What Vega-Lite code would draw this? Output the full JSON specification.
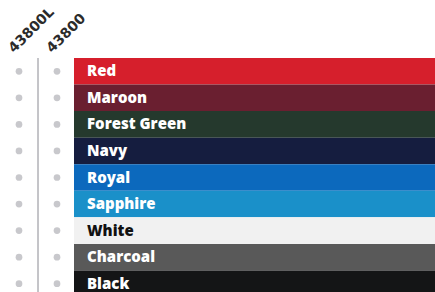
{
  "$schema": "https://vega.github.io/schema/vega-lite/v6.json",
  "width": 435,
  "height": 292,
  "autosize": "none",
  "padding": 0,
  "background": "white",
  "config": {"view": {"stroke": null}},
  "data": {
    "values": [
      {"name": "Red", "hex": "#d61f2c", "43800L": 1, "43800": 1},
      {"name": "Maroon", "hex": "#6a1f30", "43800L": 1, "43800": 1},
      {"name": "Forest Green", "hex": "#25392d", "43800L": 1, "43800": 1},
      {"name": "Navy", "hex": "#151d3f", "43800L": 1, "43800": 1},
      {"name": "Royal", "hex": "#0c69bd", "43800L": 1, "43800": 1},
      {"name": "Sapphire", "hex": "#1a90c9", "43800L": 1, "43800": 1},
      {"name": "White", "hex": "#f1f1f1", "43800L": 1, "43800": 1},
      {"name": "Charcoal", "hex": "#595959", "43800L": 1, "43800": 1},
      {"name": "Black", "hex": "#141516", "43800L": 1, "43800": 1}
    ]
  },
  "encoding": {
    "y": {
      "field": "name",
      "type": "nominal",
      "sort": null,
      "axis": null,
      "scale": {"range": [58, 297], "paddingInner": 0, "paddingOuter": 0}
    }
  },
  "layer": [
    {
      "layer": [
        {
          "mark": {"type": "rect"},
          "encoding": {
            "x": {"datum": 0, "type": "quantitative", "axis": null, "scale": {"domain": [0, 1], "range": [74, 435]}},
            "x2": {"datum": 1},
            "color": {"field": "hex", "type": "nominal", "scale": null, "legend": null}
          }
        },
        {
          "mark": {"type": "text", "align": "left", "baseline": "middle", "font": "Open Sans", "fontWeight": 800, "fontSize": 15, "dx": 13, "dy": 0},
          "encoding": {
            "x": {"datum": 0, "type": "quantitative"},
            "text": {"field": "name"},
            "color": {"condition": {"test": "datum.name === 'White'", "value": "#111111"}, "value": "#ffffff"}
          }
        }
      ]
    },
    {
      "layer": [
        {
          "mark": {"type": "rule", "color": "#c4c4c8", "strokeWidth": 1},
          "encoding": {
            "x": {"datum": "divider", "type": "nominal", "axis": null, "scale": {"type": "point", "domain": ["43800L", "divider", "43800"], "range": [19, 57], "padding": 0}},
            "y": {"datum": "Red", "bandPosition": 0},
            "y2": {"datum": "Black", "bandPosition": 1}
          }
        },
        {
          "transform": [{"fold": ["43800L", "43800"], "as": ["style", "avail"]}],
          "mark": {"type": "circle", "color": "#c8c8cc", "opacity": 1, "size": 45},
          "encoding": {
            "x": {"field": "style", "type": "nominal"}
          }
        },
        {
          "data": {"values": [{"style": "43800L"}, {"style": "43800"}]},
          "mark": {"type": "text", "align": "left", "baseline": "alphabetic", "angle": 315, "font": "DejaVu Sans", "fontWeight": "bold", "fontSize": 14, "color": "#2b2b2b", "dx": 9, "dy": -16},
          "encoding": {
            "x": {"field": "style", "type": "nominal"},
            "y": {"datum": "Red"},
            "text": {"field": "style"}
          }
        }
      ]
    }
  ],
  "resolve": {"scale": {"x": "independent"}}
}
